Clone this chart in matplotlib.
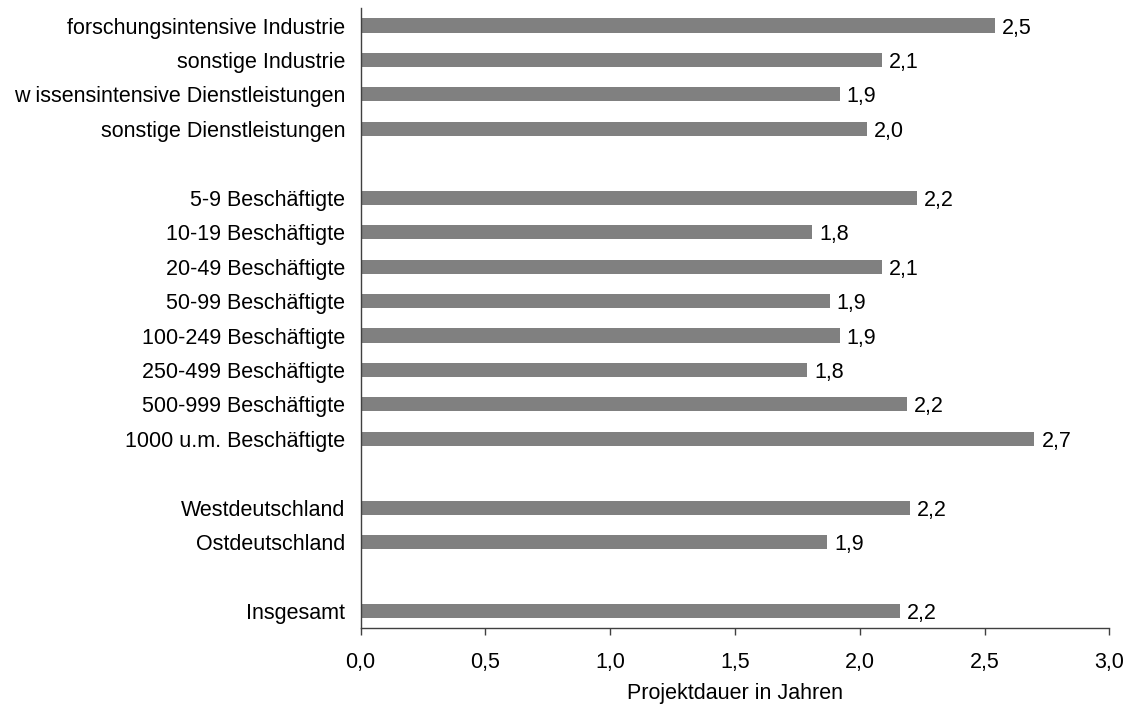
import numpy as np
import matplotlib
matplotlib.use("Agg")
import matplotlib.pyplot as plt

plt.rcParams['font.family'] = ['Liberation Sans', 'DejaVu Sans']

# categories top to bottom, None = empty row between the groups
categories = ["forschungsintensive Industrie", "sonstige Industrie",
              "w issensintensive Dienstleistungen", "sonstige Dienstleistungen",
              None,
              "5-9 Beschäftigte", "10-19 Beschäftigte", "20-49 Beschäftigte",
              "50-99 Beschäftigte", "100-249 Beschäftigte", "250-499 Beschäftigte",
              "500-999 Beschäftigte", "1000 u.m. Beschäftigte",
              None,
              "Westdeutschland", "Ostdeutschland",
              None,
              "Insgesamt"]
# Projektdauer in Jahren
values = [2.54, 2.09, 1.92, 2.03,
          None,
          2.23, 1.81, 2.09, 1.88, 1.92, 1.79, 2.19, 2.70,
          None,
          2.20, 1.87,
          None,
          2.16]
xticks = [0.0, 0.5, 1.0, 1.5, 2.0, 2.5, 3.0]

fs = 15.5

fig = plt.figure(figsize=(11.33, 7.08), dpi=100)
ax = fig.add_axes([0.3182, 0.1126, 0.6609, 0.8757])

n = len(categories)
ypos = np.arange(n)
for y, lab, v in zip(ypos, categories, values):
    if v is None:
        continue
    ax.barh(y, v, height=0.41, color="#808080")
    ax.text(v + 0.028, y, f"{v:.1f}".replace(".", ","), va="center_baseline",
            ha="left", fontsize=fs)

ax.set_ylim(n - 0.5, -0.5)
ax.set_xlim(0, 3.0)
ax.set_yticks([y for y, c in zip(ypos, categories) if c is not None])
ax.set_yticklabels([c for c in categories if c is not None], fontsize=fs)
ax.tick_params(axis="y", length=0, pad=11)
ax.set_xticks(xticks)
ax.set_xticklabels([f"{t:.1f}".replace(".", ",") for t in xticks], fontsize=fs)
ax.tick_params(axis="x", direction="out", length=5, width=1, pad=12,
               color="#404040")
ax.set_xlabel("Projektdauer in Jahren", fontsize=fs, labelpad=7)

for s in ["top", "right"]:
    ax.spines[s].set_visible(False)
for s in ["left", "bottom"]:
    ax.spines[s].set_color("#404040")
    ax.spines[s].set_linewidth(1)

fig.savefig("out.png", dpi=100)
